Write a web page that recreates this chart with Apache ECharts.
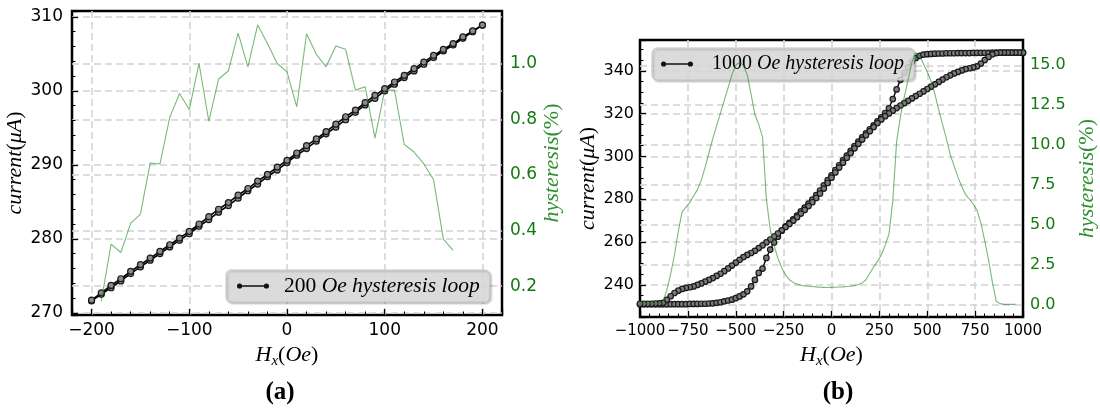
<!DOCTYPE html>
<html><head><meta charset="utf-8">
<script src="https://cdn.jsdelivr.net/npm/echarts@6/dist/echarts.min.js"></script>
<style>html,body{margin:0;padding:0;background:#fff}#c{width:1100px;height:409px}</style>
</head><body><div id="c"></div>
<script>
// ---------- (a) 200 Oe loop ----------
const hx200 = [-200,-190,-180,-170,-160,-150,-140,-130,-120,-110,-100,-90,-80,-70,-60,-50,-40,-30,-20,-10,0,10,20,30,40,50,60,70,80,90,100,110,120,130,140,150,160,170,180,190,200];
const iUp200 = [271.6,272.5,273.4,274.3,275.3,276.2,277.1,278.0,278.9,279.8,280.7,281.7,282.6,283.6,284.5,285.5,286.5,287.4,288.4,289.3,290.3,291.3,292.2,293.2,294.2,295.1,296.1,297.1,298.1,299.0,300.0,300.9,301.8,302.7,303.6,304.5,305.4,306.2,307.1,308.0,308.9];
// return branch, listed from +200 back to -200
const iDown200 = [308.9,308.1,307.3,306.4,305.6,304.8,303.9,303.0,302.1,301.2,300.3,299.4,298.4,297.4,296.5,295.5,294.5,293.5,292.6,291.6,290.6,289.7,288.7,287.8,286.8,285.9,284.9,284.0,283.0,282.0,281.0,280.1,279.2,278.3,277.4,276.5,275.6,274.6,273.7,272.7,271.7];
const hysX200 = [-190,-180,-170,-160,-150,-140,-130,-120,-110,-100,-90,-80,-70,-60,-50,-40,-30,-20,-10,0,10,20,30,40,50,60,70,80,90,100,110,120,130,140,150,160,170];
const hys200 = [0.146,0.351,0.321,0.426,0.459,0.643,0.640,0.807,0.894,0.836,1.002,0.794,0.946,0.975,1.111,0.990,1.141,1.074,1.002,0.972,0.846,1.109,1.035,0.990,1.065,1.053,0.906,0.918,0.733,0.906,0.906,0.710,0.683,0.640,0.583,0.369,0.329];

// ---------- (b) 1000 Oe loop ----------
const hx1000 = [-1000,-980,-960,-940,-920,-900,-880,-860,-840,-820,-800,-780,-760,-740,-720,-700,-680,-660,-640,-620,-600,-580,-560,-540,-520,-500,-480,-460,-440,-420,-400,-380,-360,-340,-320,-300,-280,-260,-240,-220,-200,-180,-160,-140,-120,-100,-80,-60,-40,-20,0,20,40,60,80,100,120,140,160,180,200,220,240,260,280,300,320,340,360,380,400,420,440,460,480,500,520,540,560,580,600,620,640,660,680,700,720,740,760,780,800,820,840,860,880,900,920,940,960,980,1000];
const iBranchA1000 = [230.9,230.9,230.9,230.9,230.9,230.9,230.9,230.9,231.0,231.0,231.0,231.0,231.0,231.1,231.1,231.1,231.2,231.2,231.3,231.4,231.6,231.9,232.3,232.7,233.1,233.8,234.6,235.6,237.0,239.3,242.3,245.6,247.6,252.6,256.5,259.8,262.5,265.3,267.3,269.0,270.6,272.4,274.3,276.1,278.0,279.8,281.9,284.1,286.5,288.9,291.2,293.6,295.9,298.2,300.4,302.6,304.8,306.9,308.9,310.8,312.7,314.5,316.4,318.3,320.3,322.5,326.8,331.3,335.8,339.0,341.6,344.1,346.0,347.0,347.6,347.8,347.9,348.0,348.1,348.1,348.2,348.2,348.2,348.3,348.3,348.3,348.3,348.4,348.4,348.4,348.4,348.4,348.5,348.5,348.5,348.5,348.5,348.5,348.5,348.5,348.5];
const iBranchB1000 = [231.2,231.2,231.2,231.2,231.3,231.4,231.6,233.0,234.7,236.2,237.3,238.1,238.6,238.9,239.3,240.0,240.7,241.5,242.3,243.2,244.2,245.2,246.4,247.7,249.0,250.4,251.7,253.0,254.0,254.9,255.9,257.2,258.5,259.9,261.2,262.6,264.0,265.5,267.0,268.5,270.0,271.6,273.3,275.0,276.8,278.6,280.6,282.7,285.0,287.6,290.1,292.5,294.8,297.1,299.4,301.6,303.8,305.9,307.9,309.9,311.8,313.7,315.6,317.3,318.8,320.1,321.4,322.6,323.8,324.9,326.0,327.1,328.2,329.3,330.4,331.5,332.6,333.7,334.8,335.9,337.0,337.9,338.8,339.5,340.2,340.8,341.2,341.6,342.1,343.4,345.0,346.5,347.7,348.3,348.5,348.5,348.5,348.5,348.5,348.5,348.5];
// hysteresis read at hx1000[0..98] (-1000 .. 960)
const hys1000 = [0.05,0.05,0.05,0.05,0.05,0.06,0.15,0.9,1.9,3.1,4.6,5.8,6.1,6.4,6.8,7.2,7.8,8.6,9.5,10.4,11.2,12.0,12.8,13.6,14.4,15.0,15.2,15.0,14.4,13.2,11.9,11.3,10.5,6.6,4.7,3.7,2.9,2.3,1.85,1.55,1.38,1.28,1.2,1.16,1.14,1.12,1.1,1.08,1.07,1.06,1.07,1.08,1.09,1.1,1.12,1.14,1.18,1.25,1.35,1.55,1.95,2.35,2.7,3.1,3.7,4.4,6.5,10.2,11.8,13.0,14.1,15.2,15.8,15.6,15.1,14.6,14.0,13.2,12.2,11.3,10.4,9.4,8.7,8.0,7.4,6.9,6.6,6.3,5.9,5.1,4.0,2.8,1.4,0.2,0.05,0.0,0.0,0.0,0.0];

// ---------- build ----------
const loop200 = hx200.map((x,i)=>[x,iUp200[i]]).concat(hx200.slice().reverse().map((x,i)=>[x,iDown200[i]]));
const hysLine200 = hysX200.map((x,i)=>[x,hys200[i]]);
const revB = iBranchB1000.slice().reverse();
const loop1000 = hx1000.map((x,i)=>[x,iBranchA1000[i]]).concat(hx1000.slice().reverse().map((x,i)=>[x,revB[i]]));
const hysLine1000 = hys1000.map((v,i)=>[hx1000[i],v]);

const GRID_LINE = {show:true, showMinLine:false, showMaxLine:false, lineStyle:{color:'#d2d2d2', width:1.5, type:[7,4]}};
const lbl = (size, color) => ({fontFamily:'DejaVu Sans', fontSize:size, color:color, hideOverlap:false});
const SERIF = 'Liberation Serif';
const mathRich = (size, color) => ({
  i:{fontFamily:SERIF, fontStyle:'italic', fontSize:size, color:color, lineHeight:size+6},
  n:{fontFamily:SERIF, fontSize:size, color:color, lineHeight:size+6},
  s:{fontFamily:SERIF, fontStyle:'italic', fontSize:Math.round(size*0.68), color:color, verticalAlign:'bottom', lineHeight:Math.round(size*0.45)}
});
function mult(v, step){ return Math.abs(v/step - Math.round(v/step)) < 1e-6; }
function fmtOn(step, dec){
  return v => mult(v, step) ? (dec ? v.toFixed(dec) : String(Math.round(v))).replace('-', '−') : '';
}
const AXLINE = {show:false, onZero:false};
const MAJOR_TICK = {show:true, inside:true, length:6, lineStyle:{color:'#000', width:1.3}};
const MINOR_TICK = {show:true, inside:true, length:3.5, lineStyle:{color:'#000', width:1}};
const NO = {show:false};
const ICON = 'path://M6.5,3.3H27.5V4.7H6.5Z M1.5,4a2.5,2.5 0 1,0 5,0a2.5,2.5 0 1,0 -5,0Z M27.5,4a2.5,2.5 0 1,0 5,0a2.5,2.5 0 1,0 -5,0Z';

function minorAxis(base){
  return Object.assign({type:'value', axisLine:AXLINE, axisLabel:NO, splitLine:NO, axisTick:MINOR_TICK}, base);
}

const option = {
  animation:false,
  backgroundColor:'#fff',
  grid:[
    {left:72, top:11, width:430, height:304, show:true, borderColor:'#000', borderWidth:2.5, backgroundColor:'rgba(0,0,0,0)'},
    {left:640, top:40, width:383, height:277, show:true, borderColor:'#000', borderWidth:2.5, backgroundColor:'rgba(0,0,0,0)'}
  ],
  xAxis:[
    {type:'value', gridIndex:0, position:'bottom', min:-220, max:220, minInterval:100, maxInterval:100,
     axisLine:AXLINE, axisTick:MAJOR_TICK, splitLine:GRID_LINE,
     axisLabel:Object.assign({margin:7, formatter:fmtOn(100,0)}, lbl(17,'#000')),
     name:'{i|H}{s|x}{n|(}{i|Oe}{n|)}', nameLocation:'middle', nameGap:20,
     nameTextStyle:{rich:mathRich(22,'#000')}},
    minorAxis({gridIndex:0, position:'bottom', min:-220, max:220, interval:20}),
    {type:'value', gridIndex:1, position:'bottom', min:-1000, max:1000, interval:250,
     axisLine:AXLINE, axisTick:MAJOR_TICK, splitLine:GRID_LINE,
     axisLabel:Object.assign({margin:7, formatter:fmtOn(250,0), showMinLabel:true, showMaxLabel:true}, lbl(15,'#000')),
     name:'{i|H}{s|x}{n|(}{i|Oe}{n|)}', nameLocation:'middle', nameGap:18,
     nameTextStyle:{rich:mathRich(22,'#000')}},
    minorAxis({gridIndex:1, position:'bottom', min:-1000, max:1000, interval:50})
  ],
  yAxis:[
    {type:'value', gridIndex:0, position:'left', min:269.7, max:310.8, minInterval:10, maxInterval:10,
     axisLine:AXLINE, axisTick:MAJOR_TICK, splitLine:GRID_LINE,
     axisLabel:Object.assign({margin:9, formatter:fmtOn(10,0)}, lbl(17,'#000')),
     name:'{i|current}{n|(}{i|μA}{n|)}', nameLocation:'middle', nameGap:41,
     nameTextStyle:{rich:mathRich(22,'#000')}},
    minorAxis({gridIndex:0, position:'left', min:269.7, max:310.8, minInterval:2, maxInterval:2}),
    {type:'value', gridIndex:0, position:'right', min:0.096, max:1.191, minInterval:0.2, maxInterval:0.2,
     axisLine:AXLINE, axisTick:NO, splitLine:GRID_LINE,
     axisLabel:Object.assign({margin:8, formatter:fmtOn(0.2,1)}, lbl(17,'#127a12')),
     name:'{i|hysteresis}{n|(%)}', nameLocation:'middle', nameGap:32,
     nameTextStyle:{rich:mathRich(22,'#2f8f2f')}},
    {type:'value', gridIndex:1, position:'left', min:225, max:354.4, minInterval:20, maxInterval:20,
     axisLine:AXLINE, axisTick:MAJOR_TICK, splitLine:GRID_LINE,
     axisLabel:Object.assign({margin:6, formatter:fmtOn(20,0)}, lbl(16,'#000')),
     name:'{i|current}{n|(}{i|μA}{n|)}', nameLocation:'middle', nameGap:29,
     nameTextStyle:{rich:mathRich(22,'#000')}},
    minorAxis({gridIndex:1, position:'left', min:225, max:354.4, minInterval:5, maxInterval:5}),
    {type:'value', gridIndex:1, position:'right', min:-0.79, max:16.59, minInterval:2.5, maxInterval:2.5,
     axisLine:AXLINE, axisTick:NO, splitLine:GRID_LINE,
     axisLabel:Object.assign({margin:7, formatter:fmtOn(2.5,1)}, lbl(16,'#127a12')),
     name:'{i|hysteresis}{n|(%)}', nameLocation:'middle', nameGap:50,
     nameTextStyle:{rich:mathRich(22,'#2f8f2f')}}
  ],
  legend:[
    {data:[{name:'loop200'}], left:226, top:270, orient:'horizontal',
     icon:ICON, itemWidth:32, itemHeight:6, padding:[5,10,5,11],
     backgroundColor:'rgba(222,222,222,0.85)', borderColor:'#c4c4c4', borderWidth:1, borderRadius:5,
     shadowColor:'rgba(0,0,0,0.25)', shadowBlur:2, shadowOffsetX:1.5, shadowOffsetY:1.5,
     itemStyle:{color:'#111', borderColor:'#111', borderWidth:0}, selectedMode:false,
     formatter:()=> '{n|200 }{i|Oe hysteresis loop}',
     textStyle:{rich:{n:{fontFamily:SERIF, fontSize:21.5, color:'#000', padding:[0,0,0,10]}, i:{fontFamily:SERIF, fontStyle:'italic', fontSize:21.5, color:'#000'}}}},
    {data:[{name:'loop1000'}], left:652, top:48, orient:'horizontal',
     icon:ICON, itemWidth:32, itemHeight:6, padding:[6,10,6,9],
     backgroundColor:'rgba(222,222,222,0.85)', borderColor:'#c4c4c4', borderWidth:1, borderRadius:5,
     shadowColor:'rgba(0,0,0,0.25)', shadowBlur:2, shadowOffsetX:1.5, shadowOffsetY:1.5,
     itemStyle:{color:'#111', borderColor:'#111', borderWidth:0}, selectedMode:false,
     formatter:()=> '{n|1000 }{i|Oe hysteresis loop}',
     textStyle:{rich:{n:{fontFamily:SERIF, fontSize:20, color:'#000', padding:[0,0,0,14]}, i:{fontFamily:SERIF, fontStyle:'italic', fontSize:20, color:'#000'}}}}
  ],
  graphic:[
    {type:'text', x:280, y:393, style:{text:'(a)', fontFamily:SERIF, fontWeight:'bold', fontSize:25, fill:'#000', align:'center', verticalAlign:'middle'}},
    {type:'text', x:838, y:393, style:{text:'(b)', fontFamily:SERIF, fontWeight:'bold', fontSize:25, fill:'#000', align:'center', verticalAlign:'middle'}}
  ],
  series:[
    {name:'loop200', type:'line', xAxisIndex:0, yAxisIndex:0, data:loop200, symbol:'circle', symbolSize:6, showSymbol:true,
     lineStyle:{color:'#000', width:1.6}, itemStyle:{color:'#8c8c8c', borderColor:'#1a1a1a', borderWidth:1.2}, z:3, silent:true},
    {name:'hys200', type:'line', xAxisIndex:0, yAxisIndex:2, data:hysLine200, symbol:'none',
     lineStyle:{color:'rgba(30,140,30,0.6)', width:1.1}, z:4, silent:true},
    {name:'loop1000', type:'line', xAxisIndex:2, yAxisIndex:3, data:loop1000, symbol:'circle', symbolSize:5.5, showSymbol:true,
     lineStyle:{color:'#000', width:1.4}, itemStyle:{color:'#7a7a7a', borderColor:'#1a1a1a', borderWidth:1.2}, z:3, silent:true},
    {name:'hys1000', type:'line', xAxisIndex:2, yAxisIndex:5, data:hysLine1000, symbol:'none',
     lineStyle:{color:'rgba(30,140,30,0.6)', width:1.1}, z:4, silent:true}
  ]
};
const chart = echarts.init(document.getElementById('c'), null, {renderer:'canvas'});
chart.setOption(option);
</script></body></html>
